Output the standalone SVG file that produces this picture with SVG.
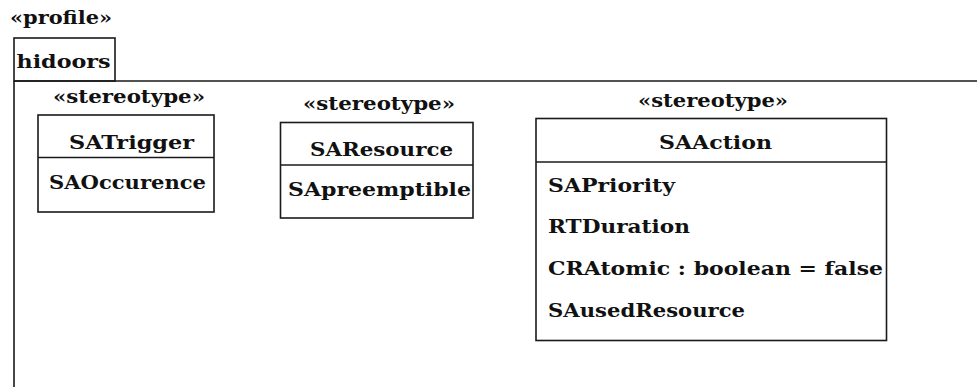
<svg xmlns="http://www.w3.org/2000/svg" width="977" height="387" viewBox="0 0 977 387">
<style>
text{font-family:"DejaVu Serif","Liberation Serif",serif;font-weight:bold;font-size:19px;fill:#111}
.ln{fill:none;stroke:#1a1a1a;stroke-width:1.6}
.box{fill:#fff;stroke:#1a1a1a;stroke-width:1.6}
</style>
<rect width="977" height="387" fill="#fff"/>
<g id="profile">
<text x="10" y="24" textLength="102" lengthAdjust="spacingAndGlyphs">«profile»</text>
<rect class="ln" x="14" y="38" width="101" height="43"/>
<text x="16.5" y="68" textLength="94" lengthAdjust="spacingAndGlyphs">hidoors</text>
<path class="ln" d="M14 81 V390 M14 81 H980"/>
</g>
<g id="SATrigger">
<text x="53" y="103" textLength="152" lengthAdjust="spacingAndGlyphs">«stereotype»</text>
<rect class="box" x="38" y="115" width="176" height="97"/>
<path class="ln" d="M38 157.5 H214"/>
<text x="69" y="149" textLength="125" lengthAdjust="spacingAndGlyphs">SATrigger</text>
<text x="49" y="189" textLength="157" lengthAdjust="spacingAndGlyphs">SAOccurence</text>
</g>
<g id="SAResource">
<text x="303" y="110" textLength="152" lengthAdjust="spacingAndGlyphs">«stereotype»</text>
<rect class="box" x="280.5" y="122.5" width="192.5" height="95.5"/>
<path class="ln" d="M280.5 165 H473"/>
<text x="310" y="155.5" textLength="143" lengthAdjust="spacingAndGlyphs">SAResource</text>
<text x="288" y="195.5" textLength="183" lengthAdjust="spacingAndGlyphs">SApreemptible</text>
</g>
<g id="SAAction">
<text x="638" y="107" textLength="150" lengthAdjust="spacingAndGlyphs">«stereotype»</text>
<rect class="box" x="536" y="118.5" width="350.5" height="222"/>
<path class="ln" d="M536 162 H886.5"/>
<text x="659" y="149" textLength="113" lengthAdjust="spacingAndGlyphs">SAAction</text>
<text x="548" y="191.5" textLength="127" lengthAdjust="spacingAndGlyphs">SAPriority</text>
<text x="548" y="233" textLength="142" lengthAdjust="spacingAndGlyphs">RTDuration</text>
<text x="548" y="275" textLength="335" lengthAdjust="spacingAndGlyphs">CRAtomic : boolean = false</text>
<text x="548" y="316.5" textLength="197" lengthAdjust="spacingAndGlyphs">SAusedResource</text>
</g>
<g id="connectors"/>
</svg>
